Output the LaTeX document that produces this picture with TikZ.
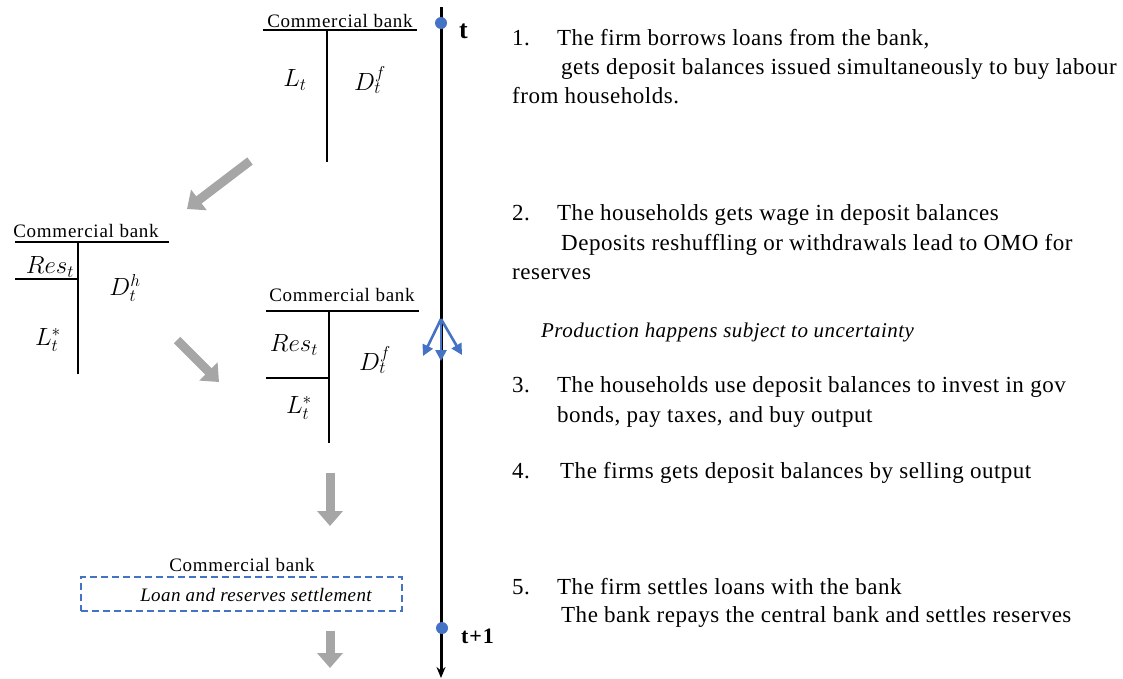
\documentclass[tikz,border=0pt]{standalone}
\usepackage{fontspec}
\setmainfont{Liberation Serif}
\newfontfamily\bodyf[LetterSpace=2.2]{Liberation Serif}
\newfontfamily\cbf[LetterSpace=4]{Liberation Serif}
\usetikzlibrary{arrows.meta}
\definecolor{arrowgray}{HTML}{A6A6A6}
\definecolor{blueA}{HTML}{4472C4}
\tikzset{
  txt/.style={anchor=base west, inner sep=0pt, font=\bodyf\fontsize{23}{26}\selectfont},
  itxt/.style={anchor=base west, inner sep=0pt, font=\bodyf\itshape\fontsize{21}{24}\selectfont},
  cb/.style={anchor=base, inner sep=0pt, font=\cbf\fontsize{19}{22}\selectfont},
  acc/.style={line width=1.2pt},
  mth/.style={inner sep=0pt, font=\fontsize{24}{27}\selectfont},
  garrow/.style={draw=arrowgray, line width=9pt, -{Triangle[length=15pt,width=25pt]}},
  barrow/.style={draw=blueA, line width=2.6pt, -{Triangle[length=11pt,width=11pt]}},
  tdot/.style={circle, fill=blueA, minimum size=12pt, inner sep=0pt},
  tlabel/.style={anchor=base west, inner sep=0pt, font=\cbf\bfseries\fontsize{26}{28}\selectfont},
}
\begin{document}
\begin{tikzpicture}[x=1pt,y=-1pt]
\useasboundingbox (0,0) rectangle (1123,678);

% timeline
\coordinate (tltop) at (441,7);
\coordinate (tlbot) at (441,678);
\draw[line width=3pt, -{Stealth[length=11pt,width=9pt]}] (tltop) -- (tlbot);
\node[tdot] (dt) at (441,23) {};
\node[tdot] (dt1) at (442,628) {};
\node[tlabel] (lt) at (459,38) {t};
\node[tlabel, font=\cbf\bfseries\fontsize{22}{26}\selectfont] (lt1) at (461,643) {t+1};

% branching blue arrows
\coordinate (br) at (441,319);
\coordinate (brl) at (423,356);
\coordinate (brm) at (441,361);
\coordinate (brr) at (462,355);
\draw[barrow] (br) -- (brl);
\draw[barrow] (br) -- (brm);
\draw[barrow] (br) -- (brr);

% Bank 1
\node[cb] (cb1) at (340,27) {Commercial bank};
\draw[acc] (263,30) -- (417,30);
\draw[acc] (327,30) -- (327,162);
\node[mth] (l1) at (295,80) {$L_t$};
\node[mth] (d1) at (370,80) {$D_t^f$};

% Bank 2
\node[cb] (cb2) at (86,237) {Commercial bank};
\draw[acc] (15,242) -- (169,242);
\draw[acc] (78,242) -- (78,374);
\draw[acc] (15,279) -- (78,279);
\node[mth] (r2) at (50,267) {$Res_t$};
\node[mth] (d2) at (125,288) {$D_t^h$};
\node[mth] (l2) at (48,340) {$L_t^*$};

% Bank 3
\node[cb] (cb3) at (342,301) {Commercial bank};
\draw[acc] (266,311) -- (419,311);
\draw[acc] (329,311) -- (329,443);
\draw[acc] (266,378) -- (329,378);
\node[mth] (r3) at (294,345) {$Res_t$};
\node[mth] (d3) at (375,360) {$D_t^f$};
\node[mth] (l3) at (299,408) {$L_t^*$};

% Bank 4
\node[cb] (cb4) at (242,571) {Commercial bank};
\node[draw=blueA, dash pattern=on 7pt off 4pt, line width=1.3pt, minimum width=321pt, minimum height=34pt, inner sep=0pt] (box) at (241.5,594) {};
\node[itxt, anchor=base, font=\bodyf\itshape\fontsize{19}{22}\selectfont] (settle) at (256,601) {Loan and reserves settlement};

% gray arrows
\coordinate (g1a) at (250,161);
\coordinate (g1b) at (187,209);
\coordinate (g2a) at (177,340);
\coordinate (g2b) at (219,382);
\coordinate (g3a) at (330,473);
\coordinate (g3b) at (330,526);
\coordinate (g4a) at (330,631);
\coordinate (g4b) at (330,668);
\draw[garrow] (g1a) -- (g1b);
\draw[garrow] (g2a) -- (g2b);
\draw[garrow] (g3a) -- (g3b);
\draw[garrow] (g4a) -- (g4b);

% right text
\node[txt] (n1) at (512,45) {1.};
\node[txt] (t1a) at (557,45) {The firm borrows loans from the bank,};
\node[txt] (t1b) at (561,74) {gets deposit balances issued simultaneously to buy labour};
\node[txt] (t1c) at (512,103) {from households.};

\node[txt] (n2) at (512,220) {2.};
\node[txt] (t2a) at (557,220) {The households gets wage in deposit balances};
\node[txt] (t2b) at (561,250) {Deposits reshuffling or withdrawals lead to OMO for};
\node[txt] (t2c) at (512,279) {reserves};

\node[itxt] (prod) at (541,337) {Production happens subject to uncertainty};

\node[txt] (n3) at (512,392) {3.};
\node[txt] (t3a) at (557,392) {The households use deposit balances to invest in gov};
\node[txt] (t3b) at (557,422) {bonds, pay taxes, and buy output};

\node[txt] (n4) at (512,478) {4.};
\node[txt] (t4a) at (560,478) {The firms gets deposit balances by selling output};

\node[txt] (n5) at (512,594) {5.};
\node[txt] (t5a) at (557,594) {The firm settles loans with the bank};
\node[txt] (t5b) at (561,622) {The bank repays the central bank and settles reserves};
\end{tikzpicture}
\end{document}
